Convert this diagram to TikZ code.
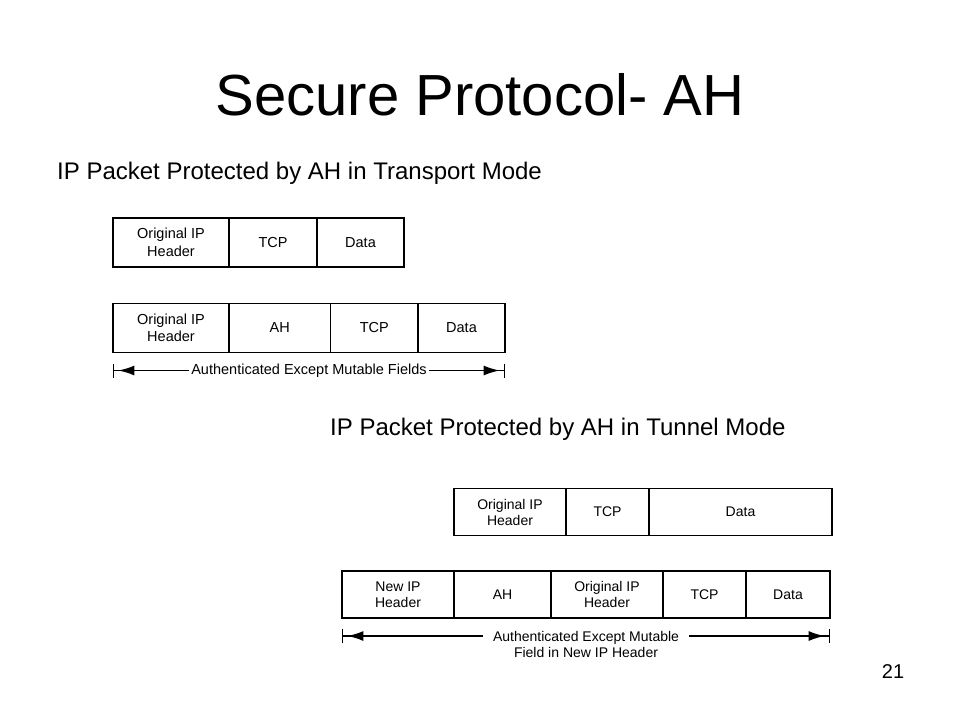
\documentclass[tikz,border=0pt]{standalone}
\usepackage{fontspec}
\setmainfont{Liberation Sans}
\usetikzlibrary{arrows.meta,positioning,calc}

\tikzset{
	field/.style={draw, line width=1.7pt, inner sep=0pt, outer sep=0pt, align=center, anchor=west},
	tfield/.style={field, minimum height=49pt, font=\fontsize{14.5}{17.5}\selectfont},
	nfield/.style={field, minimum height=47pt, font=\fontsize{14}{16}\selectfont},
	span/.style={line width=1.4pt, -{Latex[length=16pt,width=10pt,sep=4pt]Bar[width=14pt]}}
}

\begin{document}
\begin{tikzpicture}[x=1pt, y=-1pt]
	\useasboundingbox (0,0) rectangle (960,720);
	\node (title) at (480,95) {\fontsize{58}{64}\selectfont Secure Protocol- AH};
	\node[anchor=west, inner sep=0pt] (ltrans) at (57,173) {\fontsize{24}{28}\selectfont IP Packet Protected by AH in Transport Mode};
	\node[anchor=west, inner sep=0pt] (ltunnel) at (330,429) {\fontsize{24}{28}\selectfont IP Packet Protected by AH in Tunnel Mode};
	\node (page) at (893,672) {\fontsize{20}{24}\selectfont 21};

	% transport mode
	\node[tfield, minimum width=116pt] (tipa) at (113,242.5) {Original IP\\Header};
	\node[tfield, minimum width=88pt, right=0pt of tipa] (ttcpa) {TCP};
	\node[tfield, minimum width=87pt, right=0pt of ttcpa] (tdataa) {Data};

	\node[tfield, minimum width=116pt] (tipb) at (113,328) {Original IP\\Header};
	\node[tfield, minimum width=101.5pt, right=0pt of tipb] (tahb) {AH};
	\node[tfield, minimum width=87.5pt, right=0pt of tahb] (ttcpb) {TCP};
	\node[tfield, minimum width=87pt, right=0pt of ttcpb] (tdatab) {Data};

	\coordinate (tl) at ([yshift=-18pt]tipb.south west);
	\coordinate (tr) at ([yshift=-18pt]tdatab.south east);
	\node[inner sep=2.5pt, font=\fontsize{14.5}{17.5}\selectfont] (tauth) at ($(tl)!0.5!(tr)$) {Authenticated Except Mutable Fields};
	\draw[span] (tauth.west) -- (tl);
	\draw[span] (tauth.east) -- (tr);

	% tunnel mode
	\node[nfield, minimum width=112pt] (nipa) at (454,512) {Original IP\\Header};
	\node[nfield, minimum width=83pt, right=0pt of nipa] (ntcpa) {TCP};
	\node[nfield, minimum width=183pt, right=0pt of ntcpa] (ndataa) {Data};

	\node[nfield, minimum width=112pt] (nnewb) at (342,594.5) {New IP\\Header};
	\node[nfield, minimum width=97pt, right=0pt of nnewb] (nahb) {AH};
	\node[nfield, minimum width=112pt, right=0pt of nahb] (nipb) {Original IP\\Header};
	\node[nfield, minimum width=83pt, right=0pt of nipb] (ntcpb) {TCP};
	\node[nfield, minimum width=84pt, right=0pt of ntcpb] (ndatab) {Data};

	\coordinate (nl) at ([yshift=-18pt]nnewb.south west);
	\coordinate (nr) at ([yshift=-18pt]ndatab.south east);
	\node[anchor=north, inner sep=0pt, align=center, font=\fontsize{14}{16.5}\selectfont] (nauth) at ([yshift=5pt]$(nl)!0.5!(nr)$) {Authenticated Except Mutable\\Field in New IP Header};
	\draw[span, shorten <=10pt] (nauth.west |- nl) -- (nl);
	\draw[span, shorten <=10pt] (nauth.east |- nr) -- (nr);
\end{tikzpicture}
\end{document}
